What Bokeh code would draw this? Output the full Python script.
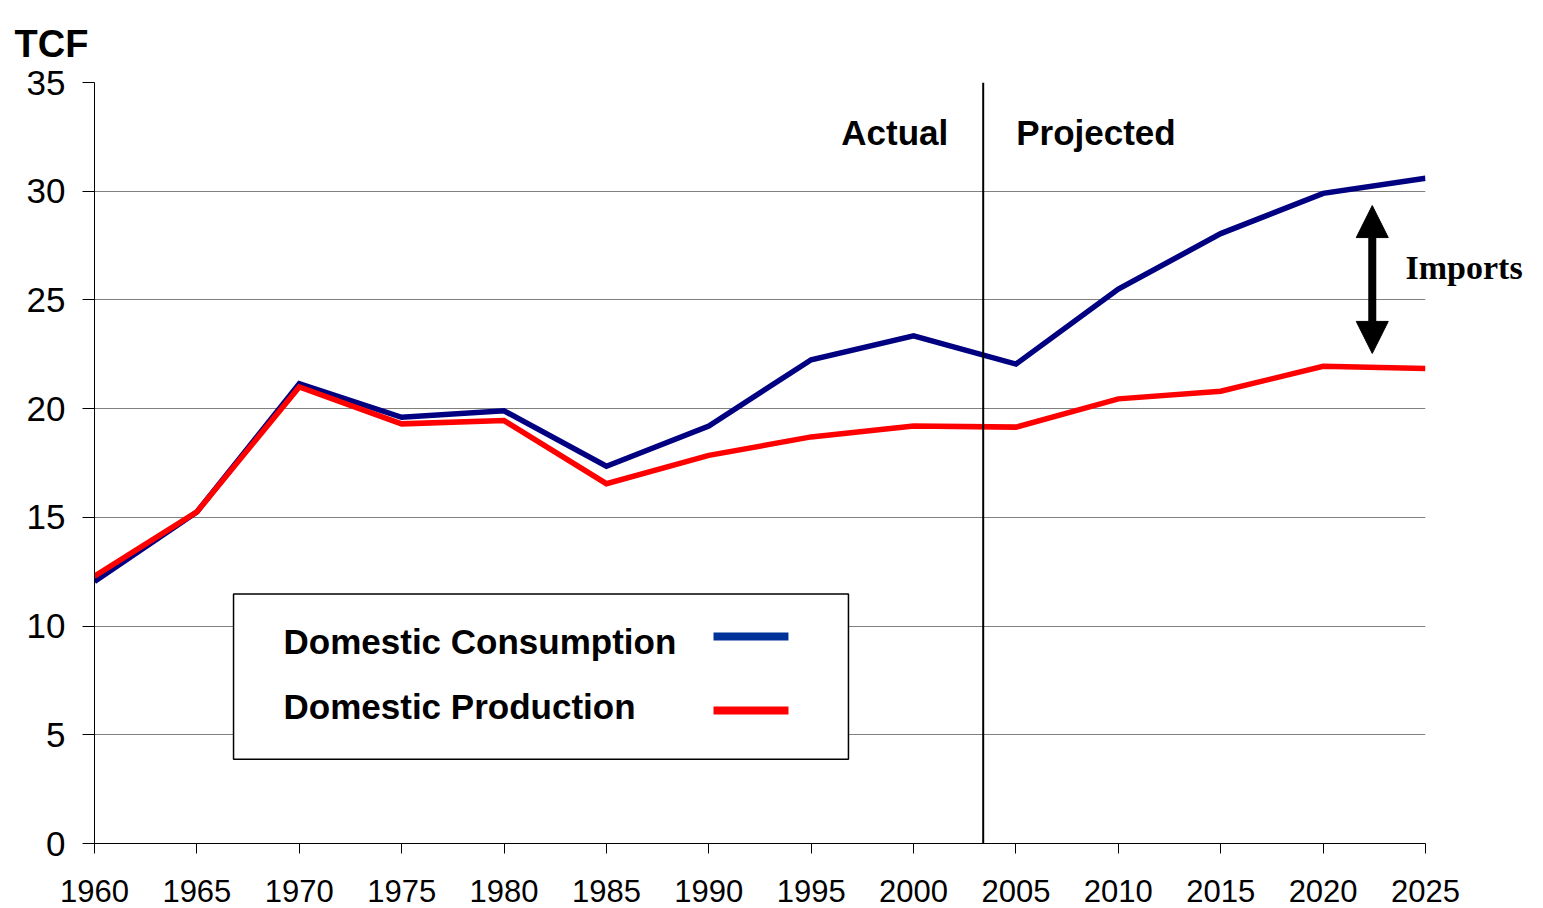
from bokeh.plotting import figure
from bokeh.models import (Range1d, Span, Label, BoxAnnotation, Arrow, NormalHead, FixedTicker,
                          LinearAxis)
from bokeh.embed import file_html
from bokeh.resources import INLINE

# ---- data ----
years = [1960, 1965, 1970, 1975, 1980, 1985, 1990, 1995, 2000, 2005, 2010, 2015, 2020, 2025]
consumption = [12.05, 15.25, 21.15, 19.6, 19.9, 17.35, 19.2, 22.25, 23.35, 22.05, 25.5, 28.05, 29.9, 30.6]
production = [12.3, 15.25, 21.0, 19.3, 19.45, 16.55, 17.85, 18.7, 19.2, 19.15, 20.45, 20.8, 21.95, 21.85]
series_names = ["Domestic Consumption", "Domestic Production"]
x_ticks = list(range(1960, 2026, 5))
y_ticks = list(range(0, 36, 5))
y_unit = "TCF"
divider_year = 2003.4
period_labels = ["Actual", "Projected"]
imports_label = "Imports"
imports_x = 2022.4
imports_low = 22.54
imports_high = 29.34
imports_label_y = 26.5

# ---- layout / style constants ----
SANS = "Liberation Sans"
SERIF = "Liberation Serif"
CONS_COLOR = "#000080"
PROD_COLOR = "#FF0000"
CONS_LEGEND_COLOR = "#003399"
leg_left, leg_right, leg_bottom, leg_top = 1966.79, 1996.82, 3.87, 11.47
samp_left, samp_right = 1990.23, 1993.89
samp_cons = (9.34, 9.70)
samp_prod = (5.93, 6.30)

p = figure(width=1543, height=908, output_backend="svg", toolbar_location=None,
           x_range=Range1d(1960, 2025), y_range=Range1d(0, 35),
           min_border_left=94, min_border_right=118, min_border_top=82, min_border_bottom=65)
p.outline_line_color = None
p.background_fill_color = "white"
p.border_fill_color = "white"

# unit title top-left
p.title.text = y_unit
p.title.align = "left"
p.title.vertical_align = "top"
p.title.offset = -80
p.title.standoff = 32
p.title.text_font = SANS
p.title.text_font_style = "bold"
p.title.text_font_size = "38px"
p.title.text_color = "black"

p.xgrid.visible = False
p.ygrid.grid_line_color = "#808080"
p.ygrid.grid_line_width = 1

p.xaxis.ticker = FixedTicker(ticks=x_ticks)
p.yaxis.ticker = FixedTicker(ticks=y_ticks)
for ax in (p.xaxis, p.yaxis):
    ax.axis_line_color = "black"
    ax.axis_line_width = 1
    ax.major_tick_line_color = "black"
    ax.major_tick_in = 0
    ax.minor_tick_out = 0
    ax.minor_tick_in = 0
    ax.major_label_text_font = SANS
    ax.major_label_text_color = "black"
p.xaxis.major_tick_out = 10
p.xaxis.major_label_standoff = 26
p.xaxis.major_label_text_font_size = "31px"
p.yaxis.major_tick_out = 12
p.yaxis.major_label_standoff = 17
p.yaxis.major_label_text_font_size = "35px"

# divider
p.add_layout(Span(location=divider_year, dimension="height", line_color="black", line_width=2))

# lines
p.line(years, consumption, line_color=CONS_COLOR, line_width=5.5, line_join="miter")
p.line(years, production, line_color=PROD_COLOR, line_width=5.5, line_join="miter")

# period texts
p.add_layout(Label(x=divider_year, y=35, x_offset=-35, y_offset=-50, text=period_labels[0],
                   text_font=SANS, text_font_style="bold", text_font_size="35px",
                   text_align="right", text_baseline="alphabetic", text_color="black"))
p.add_layout(Label(x=divider_year, y=35, x_offset=33, y_offset=-50, text=period_labels[1],
                   text_font=SANS, text_font_style="bold", text_font_size="35px",
                   text_align="left", text_baseline="alphabetic", text_color="black"))

# imports arrow
p.add_layout(Arrow(start=NormalHead(size=32, fill_color="black", line_color="black", line_width=1),
                   end=NormalHead(size=32, fill_color="black", line_color="black", line_width=1),
                   x_start=imports_x, y_start=imports_low, x_end=imports_x, y_end=imports_high,
                   line_color="black", line_width=8))
# "Imports" text placed via a right-side axis so it is not clipped by the frame
imp_axis = LinearAxis(ticker=FixedTicker(ticks=[imports_label_y]),
                      major_label_overrides={imports_label_y: imports_label},
                      axis_line_color=None, major_tick_line_color=None, minor_tick_line_color=None,
                      major_tick_out=0, major_tick_in=0, minor_tick_out=0, minor_tick_in=0,
                      major_label_standoff=-20, major_label_text_font=SERIF,
                      major_label_text_font_style="bold", major_label_text_font_size="34px",
                      major_label_text_color="black", major_label_orientation="horizontal")
p.add_layout(imp_axis, "right")

# legend (label on left, sample on right)
p.add_layout(BoxAnnotation(left=leg_left, right=leg_right, bottom=leg_bottom, top=leg_top,
                           fill_color="white", fill_alpha=1.0, line_color="black", line_width=1.5,
                           line_alpha=1.0))
for name, dy in zip(series_names, [-47, -112]):
    p.add_layout(Label(x=leg_left, y=leg_top, x_offset=50, y_offset=dy, text=name,
                       text_font=SANS, text_font_style="bold", text_font_size="35px",
                       text_align="left", text_baseline="alphabetic", text_color="black"))
p.add_layout(BoxAnnotation(left=samp_left, right=samp_right, bottom=samp_cons[0], top=samp_cons[1],
                           fill_color=CONS_LEGEND_COLOR, fill_alpha=1.0, line_color=None))
p.add_layout(BoxAnnotation(left=samp_left, right=samp_right, bottom=samp_prod[0], top=samp_prod[1],
                           fill_color=PROD_COLOR, fill_alpha=1.0, line_color=None))

open("out.html", "w").write(file_html(p, INLINE))
